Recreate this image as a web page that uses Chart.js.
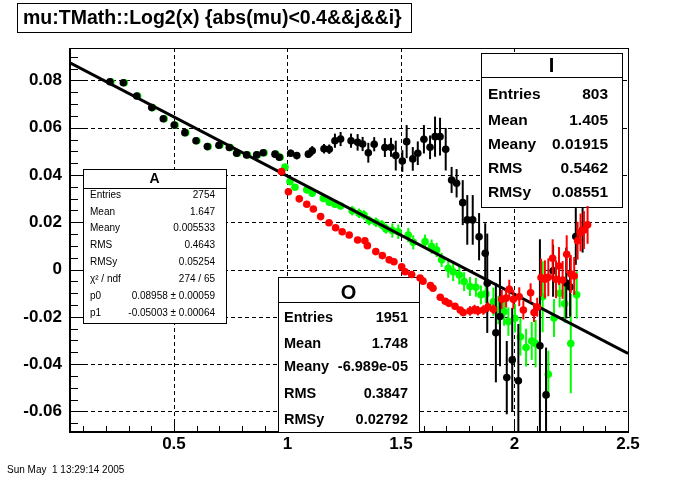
<!DOCTYPE html>
<html><head><meta charset="utf-8">
<script src="https://cdn.jsdelivr.net/npm/chart.js@4.4.0/dist/chart.umd.min.js"></script>
<style>html,body{margin:0;padding:0;background:#fff;}canvas{display:block;}</style>
</head><body>
<canvas id="c" width="700" height="480"></canvas>
<script>
const titleText = "mu:TMath::Log2(x) {abs(mu)<0.4&&j&&i}";
const dateText = "Sun May  1 13:29:14 2005";
const xRange = [0.042, 2.5];
const yRange = [-0.0687, 0.0937];
const xTicks = [0.5, 1, 1.5, 2, 2.5];
const xTickLabels = ["0.5", "1", "1.5", "2", "2.5"];
const yTicks = [-0.06, -0.04, -0.02, 0, 0.02, 0.04, 0.06, 0.08];
const yTickLabels = ["-0.06", "-0.04", "-0.02", "0", "0.02", "0.04", "0.06", "0.08"];

// I (black)
const blackX = [0.218,0.277,0.336,0.402,0.453,0.501,0.548,0.597,0.647,0.698,0.744,0.776,0.820,0.864,0.893,0.945,0.964,
  1.014,1.041,1.092,1.109,1.161,1.184,1.209,1.234,1.280,1.309,1.331,1.356,1.382,1.429,1.456,1.477,1.506,1.525,1.552,1.574,1.601,1.628,1.650,1.672,1.697,1.723,1.745,1.772,1.792,1.816,1.844,1.871,
  1.880,1.918,1.936,1.966,1.990,2.017,2.112,2.139,2.170,2.228,2.245,2.270,2.300];
const blackY = [0.0794,0.0790,0.0734,0.0685,0.0638,0.0611,0.0579,0.0545,0.0520,0.0526,0.0516,0.0492,0.0485,0.0485,0.0494,0.0488,0.0475,
  0.0492,0.0482,0.0488,0.0502,0.0511,0.0509,0.0545,0.0552,0.0545,0.0538,0.0531,0.0494,0.0530,0.0516,0.0517,0.0482,0.0459,0.0541,0.0468,0.0492,0.0551,0.0517,0.0562,0.0562,0.0509,0.0379,0.0365,0.0283,0.0210,0.0210,0.0139,0.0069,
  -0.0058,-0.0267,-0.0199,-0.0457,-0.0382,-0.0470,-0.0322,-0.0530,-0.0005,-0.0057,-0.0074,0.0140,0.0167];
const blackErr = [0.001,0.001,0.001,0.001,0.001,0.001,0.001,0.001,0.001,0.001,0.001,0.001,0.001,0.001,0.001,0.001,0.001,
  0.0015,0.0015,0.0015,0.002,0.002,0.002,0.003,0.003,0.003,0.0035,0.003,0.0042,0.003,0.004,0.004,0.0063,0.0046,0.007,0.005,0.005,0.006,0.005,0.0085,0.008,0.009,0.0055,0.006,0.0095,0.0105,0.0105,0.010,0.0127,
  0.021,0.021,0.021,0.0155,0.022,0.024,0.045,0.02,0.011,0.015,0.0125,0.012,0.0095];

// A (green)
const greenX = [0.222,0.281,0.340,0.406,0.457,0.505,0.552,0.601,0.651,0.702,0.748,0.780,0.824,0.868,0.897,0.949,0.968,
  0.989,1.011,1.033,1.085,1.109,1.158,1.184,1.209,1.234,1.285,1.315,1.337,1.360,1.390,1.415,1.434,1.462,1.488,1.532,1.554,1.606,1.635,1.657,1.679,1.708,1.730,1.757,1.778,1.804,1.830,1.852,1.874,1.907,1.929,1.954,1.973,2.002,2.026,2.051,2.076,2.093,2.124,2.149,2.174,2.199,2.221,2.248,2.274];
const greenY = [0.0794,0.0790,0.0734,0.0685,0.0638,0.0611,0.0579,0.0545,0.0520,0.0526,0.0516,0.0492,0.0485,0.0485,0.0494,0.0488,0.0475,
  0.0433,0.0372,0.0348,0.0337,0.0323,0.0301,0.0285,0.0276,0.0269,0.0249,0.0238,0.0231,0.0207,0.0200,0.0189,0.0172,0.0165,0.0160,0.0146,0.0115,0.0118,0.0097,0.0083,0.0041,0.0005,-0.0009,-0.0023,-0.0051,-0.0072,-0.0075,-0.0107,-0.0103,-0.0136,-0.0171,-0.0178,-0.0220,-0.0206,-0.0284,-0.0330,-0.0302,-0.0313,-0.0115,-0.0443,-0.0205,-0.0100,-0.0145,-0.0313,-0.0107];
const greenErr = [0.001,0.001,0.001,0.001,0.001,0.001,0.001,0.001,0.001,0.001,0.001,0.001,0.001,0.001,0.001,0.001,0.001,
  0.001,0.001,0.001,0.0015,0.0015,0.0015,0.0015,0.0015,0.0015,0.002,0.002,0.002,0.002,0.002,0.002,0.002,0.003,0.003,0.003,0.003,0.003,0.003,0.003,0.003,0.004,0.004,0.004,0.004,0.004,0.004,0.004,0.004,0.006,0.006,0.006,0.006,0.006,0.008,0.008,0.008,0.01,0.015,0.01,0.008,0.006,0.008,0.021,0.01];

// O (red)
const redX = [0.974,1.004,1.052,1.085,1.114,1.146,1.183,1.212,1.241,1.272,1.309,1.341,1.352,1.389,1.418,1.448,1.469,1.503,1.518,1.547,1.584,1.597,1.630,1.641,1.673,1.695,1.711,1.738,1.761,1.774,1.804,1.824,1.839,1.863,1.883,1.907,1.944,1.963,1.977,1.995,2.021,2.039,2.071,2.086,2.100,2.117,2.134,2.149,2.168,2.183,2.196,2.212,2.230,2.248,2.263,2.278,2.291,2.306,2.322];
const redY = [0.0414,0.0329,0.0299,0.0276,0.0256,0.0224,0.0198,0.0177,0.0160,0.0146,0.0125,0.0122,0.0101,0.0076,0.0059,0.0041,0.0033,0.0012,-0.0009,-0.0021,-0.0036,-0.0049,-0.0068,-0.0079,-0.0117,-0.0134,-0.0143,-0.0155,-0.0171,-0.0182,-0.0175,-0.0169,-0.0174,-0.0171,-0.0159,-0.0168,-0.0126,-0.0121,-0.0083,-0.0126,-0.0115,-0.0171,-0.0098,-0.0182,-0.0159,-0.0034,-0.0041,-0.0033,0.0048,-0.0041,0.0015,-0.0044,0.0065,-0.0019,-0.0027,0.0122,0.0157,0.0167,0.0189];
const redErr = [0.001,0.001,0.001,0.001,0.001,0.001,0.001,0.001,0.001,0.001,0.001,0.001,0.001,0.001,0.001,0.001,0.001,0.001,0.001,0.001,0.001,0.001,0.001,0.001,0.001,0.001,0.001,0.001,0.001,0.001,
  0.002,0.002,0.002,0.002,0.002,0.002,0.004,0.004,0.004,0.004,0.004,0.004,0.004,0.004,0.004,0.008,0.008,0.008,0.008,0.008,0.008,0.008,0.008,0.008,0.008,0.008,0.008,0.008,0.008];

// fit pol1 on A
const fitP0 = 0.08958, fitP1 = -0.05003;
const fitX = [0.042, 2.5];

// stats boxes text
const statsALabels = ["Entries","Mean","Meany","RMS","RMSy","\u03C7\u00B2 / ndf","p0","p1"];
const statsAValues = ["2754","1.647","0.005533","0.4643","0.05254","274 / 65","0.08958 \u00B1 0.00059","-0.05003 \u00B1 0.00064"];
const statsILabels = ["Entries","Mean","Meany","RMS","RMSy"];
const statsIValues = ["803","1.405","0.01915","0.5462","0.08551"];
const statsOLabels = ["Entries","Mean","Meany","RMS","RMSy"];
const statsOValues = ["1951","1.748","-6.989e-05","0.3847","0.02792"];

const pts = (xs, ys) => xs.map((x, i) => ({x: x, y: ys[i]}));

function drawBox(ctx, b, title, labels, values) {
  ctx.save();
  ctx.fillStyle = '#fff';
  ctx.fillRect(b.x, b.y, b.w, b.h);
  ctx.strokeStyle = '#000';
  ctx.lineWidth = 1;
  ctx.strokeRect(b.x + 0.5, b.y + 0.5, b.w, b.h);
  ctx.beginPath();
  ctx.moveTo(b.x, b.sep + 0.5); ctx.lineTo(b.x + b.w, b.sep + 0.5); ctx.stroke();
  ctx.fillStyle = '#000';
  ctx.textBaseline = 'middle';
  ctx.textAlign = 'center';
  ctx.font = b.titleFont;
  ctx.fillText(title, b.x + b.w / 2, b.titleY);
  ctx.font = b.font;
  labels.forEach((l, i) => {
    ctx.textAlign = 'left';
    ctx.fillText(l, b.lx, b.rows[i]);
    ctx.textAlign = 'right';
    ctx.fillText(values[i], b.rx, b.rows[i]);
  });
  ctx.restore();
}

const rootPlugin = {
  id: 'rootStyle',
  beforeDatasetsDraw(chart) {
    const ctx = chart.ctx, a = chart.chartArea, xs = chart.scales.x, ys = chart.scales.y;
    ctx.save();
    ctx.strokeStyle = '#000';
    ctx.lineWidth = 1;
    ctx.setLineDash([4, 3]);
    xTicks.forEach(v => {
      const px = Math.round(xs.getPixelForValue(v)) + 0.5;
      ctx.beginPath(); ctx.moveTo(px, a.top); ctx.lineTo(px, a.bottom); ctx.stroke();
    });
    yTicks.forEach(v => {
      const py = Math.round(ys.getPixelForValue(v)) + 0.5;
      ctx.beginPath(); ctx.moveTo(a.left, py); ctx.lineTo(a.right, py); ctx.stroke();
    });
    ctx.setLineDash([]);
    ctx.lineWidth = 1;
    for (let k = -14; k <= 18; k++) {
      const v = k * 0.005;
      if (v < yRange[0] || v > yRange[1]) continue;
      const py = Math.round(ys.getPixelForValue(v)) + 0.5;
      const len = (k % 4 === 0) ? 16 : 8;
      ctx.beginPath(); ctx.moveTo(a.left, py); ctx.lineTo(a.left + len, py); ctx.stroke();
    }
    for (let k = 1; k <= 25; k++) {
      const v = k * 0.1;
      if (v < xRange[0] || v > xRange[1]) continue;
      const px = Math.round(xs.getPixelForValue(v)) + 0.5;
      const len = (k % 5 === 0) ? 12 : 6;
      ctx.beginPath(); ctx.moveTo(px, a.bottom); ctx.lineTo(px, a.bottom - len); ctx.stroke();
    }
    ctx.lineWidth = 1;
    ctx.strokeRect(a.left + 0.5, a.top + 0.5, a.right - a.left, a.bottom - a.top);
    ctx.lineWidth = 2;
    ctx.beginPath(); ctx.moveTo(a.left, a.top); ctx.lineTo(a.left, a.bottom); ctx.lineTo(a.right + 1, a.bottom); ctx.stroke();
    ctx.restore();
    drawBox(ctx, {x: 83, y: 169, w: 143, h: 154, sep: 188, titleY: 179, titleFont: 'bold 14px "Liberation Sans", Arial, sans-serif',
      font: '10px "Liberation Sans", Arial, sans-serif', lx: 90, rx: 215, rows: [195, 212, 228, 245, 262.5, 279, 296, 313]}, 'A', statsALabels, statsAValues);
    drawBox(ctx, {x: 481, y: 53, w: 141, h: 154, sep: 77, titleY: 66, titleFont: 'bold 20px "Liberation Sans", Arial, sans-serif',
      font: 'bold 15.5px "Liberation Sans", Arial, sans-serif', lx: 488, rx: 608, rows: [95, 120.5, 144.5, 168.5, 192.5]}, 'I', statsILabels, statsIValues);
    drawBox(ctx, {x: 278, y: 277, w: 141, h: 155, sep: 302, titleY: 293, titleFont: 'bold 20px "Liberation Sans", Arial, sans-serif',
      font: 'bold 14.5px "Liberation Sans", Arial, sans-serif', lx: 284, rx: 408, rows: [318, 343.5, 367, 393.5, 420]}, 'O', statsOLabels, statsOValues);
  },
  beforeDatasetDraw(chart, args) {
    const ds = chart.data.datasets[args.index];
    if (!ds.errors) return;
    const ctx = chart.ctx, a = chart.chartArea, xs = chart.scales.x, ys = chart.scales.y;
    ctx.save();
    ctx.beginPath(); ctx.rect(a.left, a.top, a.right - a.left, a.bottom - a.top); ctx.clip();
    ctx.strokeStyle = ds.errColor;
    ctx.lineWidth = 2;
    ds.data.forEach((p, i) => {
      const px = xs.getPixelForValue(p.x);
      ctx.beginPath();
      ctx.moveTo(px, ys.getPixelForValue(p.y - ds.errors[i]));
      ctx.lineTo(px, ys.getPixelForValue(p.y + ds.errors[i]));
      ctx.stroke();
    });
    ctx.restore();
  },
  afterDraw(chart) {
    const ctx = chart.ctx;
    ctx.save();
    ctx.fillStyle = '#fff';
    ctx.fillRect(17, 3, 394, 29);
    ctx.strokeStyle = '#000';
    ctx.lineWidth = 1;
    ctx.strokeRect(17.5, 3.5, 394, 29);
    ctx.fillStyle = '#000';
    ctx.font = 'bold 19.5px "Liberation Sans", Arial, sans-serif';
    ctx.textAlign = 'left';
    ctx.textBaseline = 'middle';
    ctx.fillText(titleText, 23, 18.5);
    ctx.font = '10px "Liberation Sans", Arial, sans-serif';
    ctx.fillText(dateText, 7, 470);
    ctx.restore();
  }
};

const tickFont = {family: '"Liberation Sans", Arial, sans-serif', size: 17, weight: 'bold'};

new Chart(document.getElementById('c'), {
  type: 'scatter',
  data: {
    datasets: [
      {label: 'O', data: pts(redX, redY), errors: redErr, errColor: '#ff0000', backgroundColor: '#ff0000', borderWidth: 0, pointRadius: 3.8, order: 0},
      {label: 'I', data: pts(blackX, blackY), errors: blackErr, errColor: '#000000', backgroundColor: '#000000', borderWidth: 0, pointRadius: 3.8, order: 1},
      {label: 'fit', data: fitX.map(x => ({x: x, y: fitP0 + fitP1 * x})), showLine: true, borderColor: '#000', borderWidth: 3, pointRadius: 0, order: 2},
      {label: 'A', data: pts(greenX, greenY), errors: greenErr, errColor: '#00ff00', backgroundColor: '#00ff00', borderWidth: 0, pointRadius: 3.8, order: 3}
    ]
  },
  options: {
    responsive: false,
    devicePixelRatio: 1,
    animation: false,
    events: [],
    layout: {padding: {left: 0, right: 72, top: 48, bottom: 0}},
    plugins: {legend: {display: false}, tooltip: {enabled: false}, title: {display: false}},
    scales: {
      x: {
        type: 'linear', min: xRange[0], max: xRange[1],
        afterBuildTicks: s => { s.ticks = xTicks.map(v => ({value: v})); },
        afterFit: s => { s.height = 48; },
        grid: {display: false, drawTicks: false},
        border: {display: false},
        ticks: {color: '#000', font: tickFont, padding: 2, maxRotation: 0, autoSkip: false,
          callback: v => xTickLabels[xTicks.indexOf(v)]}
      },
      y: {
        type: 'linear', min: yRange[0], max: yRange[1],
        afterBuildTicks: s => { s.ticks = yTicks.map(v => ({value: v})); },
        afterFit: s => { s.width = 70; },
        grid: {display: false, drawTicks: false},
        border: {display: false},
        ticks: {color: '#000', font: tickFont, padding: 8, autoSkip: false,
          callback: v => { const i = yTicks.findIndex(t => Math.abs(t - v) < 1e-9); return i >= 0 ? yTickLabels[i] : ''; }}
      }
    }
  },
  plugins: [rootPlugin]
});
</script>
</body></html>
